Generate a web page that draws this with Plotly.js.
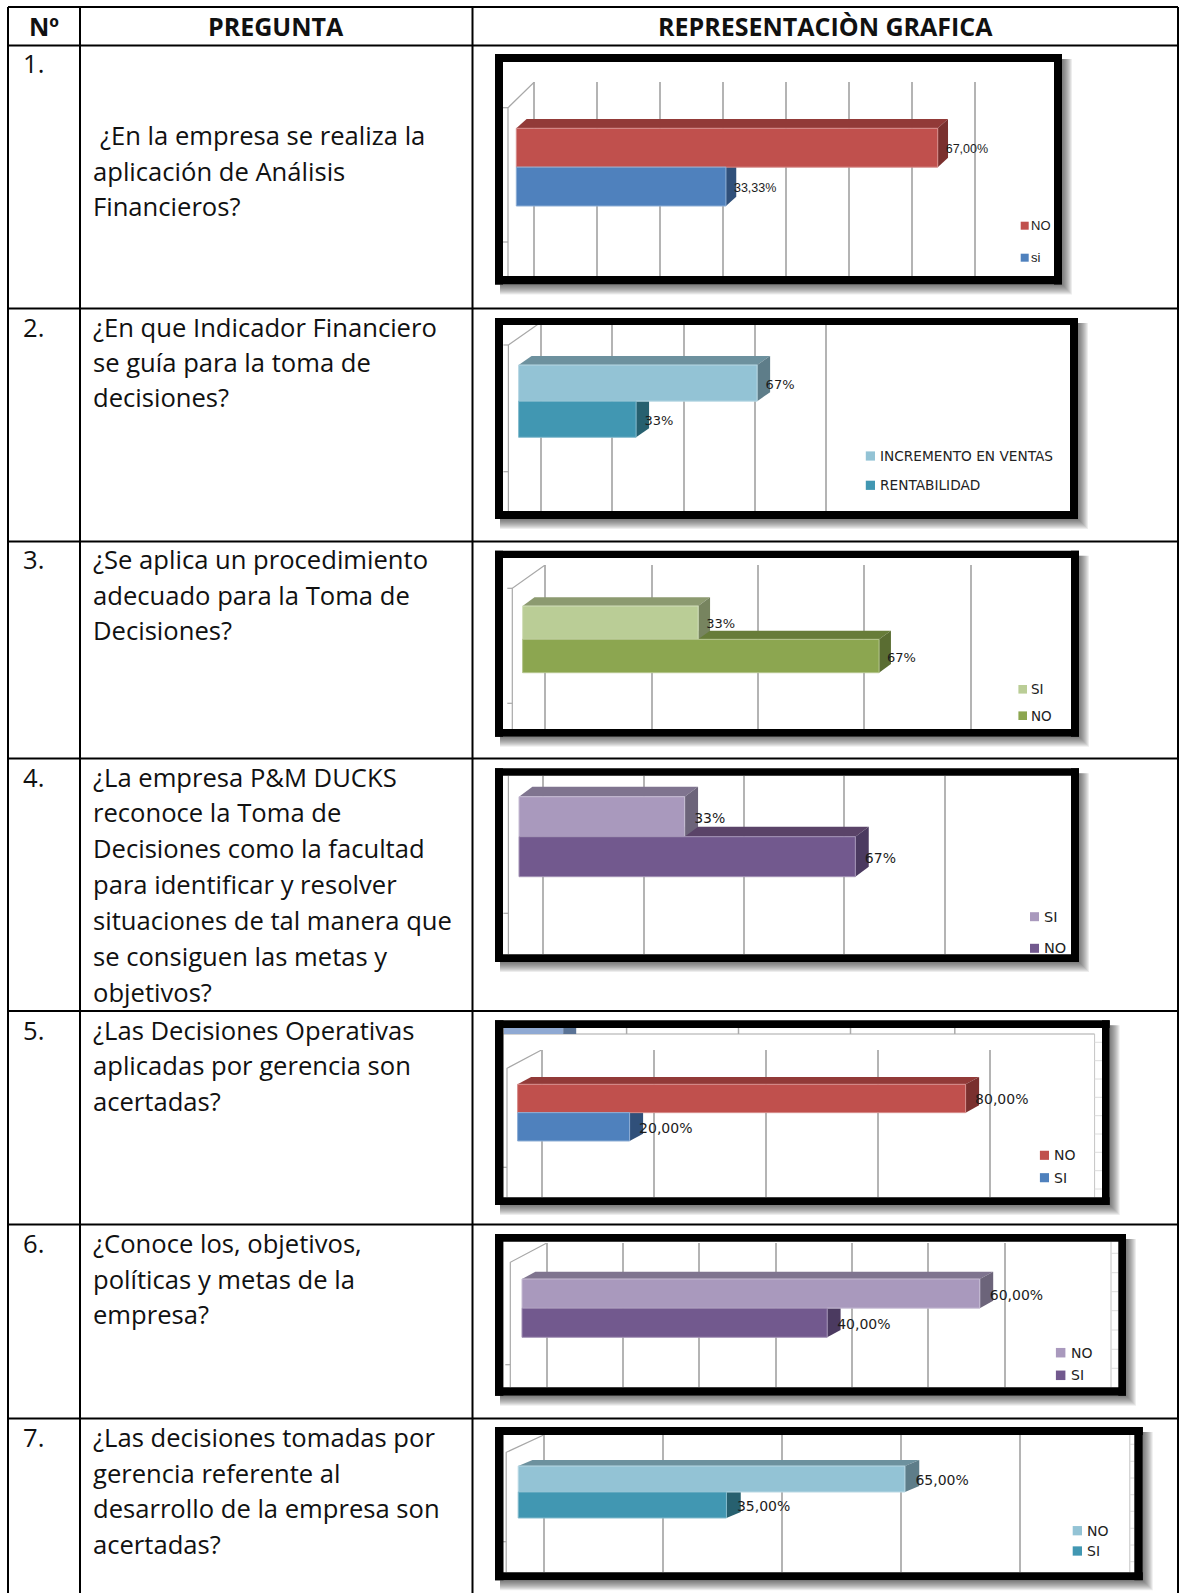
<!DOCTYPE html>
<html lang="es">
<head>
<meta charset="utf-8">
<title>Preguntas y representación gráfica</title>
<script src="https://cdn.plot.ly/plotly-3.0.1.min.js"></script>
<style>html,body{margin:0;padding:0;background:#fff}</style>
</head>
<body>
<div id="chart"></div>
<script>
// ---- Contenido de la tabla ----
const headers = ['Nº', 'PREGUNTA', 'REPRESENTACIÒN GRAFICA'];
const rowNumbers = ['1.', '2.', '3.', '4.', '5.', '6.', '7.'];
const questionLines = [
  ['¿En la empresa se realiza la', 'aplicación de Análisis', 'Financieros?'],
  ['¿En que Indicador Financiero', 'se guía para la toma de', 'decisiones?'],
  ['¿Se aplica un procedimiento', 'adecuado para la Toma de', 'Decisiones?'],
  ['¿La empresa P&M DUCKS', 'reconoce la Toma de', 'Decisiones como la facultad', 'para identificar y resolver', 'situaciones de tal manera que', 'se consiguen las metas y', 'objetivos?'],
  ['¿Las Decisiones Operativas', 'aplicadas por gerencia son', 'acertadas?'],
  ['¿Conoce los, objetivos,', 'políticas y metas de la', 'empresa?'],
  ['¿Las decisiones tomadas por', 'gerencia referente al', 'desarrollo de la empresa son', 'acertadas?']
];

// ---- Datos de cada gráfico: primero la barra superior, luego la inferior ----
const seriesNames = [
  ['NO', 'si'],
  ['INCREMENTO EN VENTAS', 'RENTABILIDAD'],
  ['SI', 'NO'],
  ['SI', 'NO'],
  ['NO', 'SI'],
  ['NO', 'SI'],
  ['NO', 'SI']
];
const seriesValues = [
  [67, 33.33],
  [67, 33],
  [33, 67],
  [33, 67],
  [80, 20],
  [60, 40],
  [65, 35]
];
const valueDecimals = [2, 0, 0, 0, 2, 2, 2];
const gridValues = [
  [0, 10, 20, 30, 40, 50, 60, 70],
  [0, 20, 40, 60, 80],
  [0, 20, 40, 60, 80],
  [0, 20, 40, 60, 80],
  [0, 20, 40, 60, 80],
  [0, 10, 20, 30, 40, 50, 60],
  [0, 20, 40, 60, 80]
];
const overlappedBarValue = 20;

// ---- Paletas: frente, cara superior, cara lateral ----
const RED = ['#C0504D', '#923A38', '#7A302E'];
const BLUE = ['#4F81BD', '#3C628F', '#30507A'];
const AQUA_L = ['#93C3D5', '#6D919E', '#5E7D89'];
const AQUA_D = ['#4197B2', '#2F6F83', '#27606F'];
const GREEN_L = ['#BACD96', '#8C9A70', '#77845F'];
const GREEN_D = ['#8CA650', '#677C39', '#5A6D32'];
const PURP_L = ['#A999BD', '#7F748F', '#6C647A'];
const PURP_D = ['#72598E', '#5A4368', '#4B3A60'];
const palettes = [
  [RED, BLUE], [AQUA_L, AQUA_D], [GREEN_L, GREEN_D], [PURP_L, PURP_D],
  [RED, BLUE], [PURP_L, PURP_D], [AQUA_L, AQUA_D]
];

// ---- Tipografías ----
const TEXT_FONT = '"Open Sans", sans-serif';
const CONDENSED_FONT = '"Liberation Sans", sans-serif';
const CHART_FONT = '"DejaVu Sans", sans-serif';

// ---- Geometría de la página y de cada gráfico, en píxeles ----
const W = 1181, H = 1593;
const X = px => px / W;
const Y = py => 1 - py / H;

const tableLeft = 8, tableRight = 1178, colA = 80, colB = 472.5, tableTop = 7;
const rowLines = [45.5, 308.5, 541.5, 758.5, 1011, 1224.5, 1418.5];
const firstLineY = [63.5, 327, 559.5, 777, 1030, 1243.5, 1437.7];
const questionY = [
  [135.5, 171, 206.5], [327, 362.5, 398], [559.5, 595.1, 630.7],
  [777, 812.6, 848.1, 884.7, 920.3, 956.9, 992.4],
  [1030, 1065.6, 1101.2], [1243.5, 1279.2, 1314.7],
  [1437.7, 1473.3, 1508.9, 1544.5]
];
const LABEL_SHIFT = 2.5;

const frames = [
  {o: [495, 54, 1062, 284.5], i: [503, 62, 1054, 276], gridTop: 82, backX0: 534.3, scale: 6.29,
   wallX: 508, diag: [107.7, 82], ticks: [107.7, 242], frontX0: 516.3, top: 128.3, bottom: 206, dx: 10.3, dy: 9.3,
   labelPad: 8, font: CONDENSED_FONT, labelSize: 12.5, legendSize: 13,
   legend: {sw: [1020.7, 1028.7], text: 1030, ys: [225.7, 257.7]}},
  {o: [495, 318, 1078, 519], i: [503, 325, 1070, 511], gridTop: 325, backX0: 541.2, scale: 3.56,
   wallX: 508.4, diag: [345, 322], ticks: [345, 471.7], frontX0: 518.6, top: 365, bottom: 437.3, dx: 13, dy: 9,
   labelPad: 8.5, font: CHART_FONT, labelSize: 13, legendSize: 13.7,
   legend: {sw: [865.8, 875], text: 879, ys: [456, 485.3]}},
  {o: [495, 550.7, 1079, 736.7], i: [503, 558, 1071, 729], gridTop: 565, backX0: 545.1, scale: 5.32,
   wallX: 512.3, diag: [588.3, 565], ticks: [588.3, 703.3], frontX0: 522.6, top: 606, bottom: 672.7, dx: 11.9, dy: 8.7,
   labelPad: 8, font: CHART_FONT, labelSize: 13, legendSize: 13.5,
   legend: {sw: [1018.4, 1027], text: 1030, ys: [689.3, 715.7]}},
  {o: [495, 768.3, 1079, 962], i: [503, 775.7, 1071, 954.3], gridTop: 775.7, backX0: 543.2, scale: 5.02,
   wallX: 508.4, diag: null, ticks: [913.3], frontX0: 519, top: 796.7, bottom: 876.7, dx: 13.4, dy: 10,
   labelPad: 9.5, font: CHART_FONT, labelSize: 14, legendSize: 14.5,
   legend: {sw: [1030, 1039], text: 1042.5, ys: [916.7, 948.3]}},
  {o: [495, 1020.3, 1109.7, 1205], i: [503.5, 1028, 1102, 1197.3], gridTop: 1050, backX0: 541.5, scale: 5.6,
   wallX: 507, diag: [1068.3, 1050], ticks: [1167.3], frontX0: 517.6, top: 1084.3, bottom: 1141, dx: 13.5, dy: 7.3,
   labelPad: 9.5, font: CHART_FONT, labelSize: 14, legendSize: 14,
   legend: {sw: [1039.9, 1049], text: 1053, ys: [1155.3, 1177.7]},
   rear: {x: 1094.6, top: 1034, ticks: [1042.3, 1060.7, 1079, 1097.3, 1115.7, 1134, 1152.3, 1170.7, 1189]}},
  {o: [495, 1234, 1126, 1395.7], i: [503.4, 1241.7, 1118.3, 1387.3], gridTop: 1243, backX0: 546.8, scale: 7.63,
   wallX: 510.3, diag: [1262.3, 1243], ticks: [1364.7], frontX0: 522, top: 1279, bottom: 1337.3, dx: 13.4, dy: 7.3,
   labelPad: 10, font: CHART_FONT, labelSize: 14, legendSize: 14,
   legend: {sw: [1055.9, 1065.4], text: 1069.5, ys: [1352.7, 1375.3]},
   rear: {x: 1111, top: null, ticks: [1253.3, 1272.7, 1291.7, 1310.7, 1330, 1349.3, 1368.3]}},
  {o: [495, 1427, 1142.8, 1580.3], i: [503.5, 1435, 1134.3, 1572.3], gridTop: 1435, backX0: 543.7, scale: 5.95,
   wallX: 506.2, diag: [1452.3, 1435], ticks: [1541.7], frontX0: 518.2, top: 1466, bottom: 1518, dx: 14.3, dy: 6,
   labelPad: 10.5, font: CHART_FONT, labelSize: 14, legendSize: 14,
   legend: {sw: [1072.7, 1082], text: 1086, ys: [1530.7, 1551]},
   rear: {x: 1129.8, top: null, ticks: [1444.3, 1461.3, 1478, 1494.7, 1511.3, 1528.3, 1545, 1561.7]}}
];

// Franja de la barra recortada que asoma en la parte alta del quinto gráfico
const overlapped = {x0: 503.5, y0: 1028, y1: 1034, scale: 2.985, dx: 13, colors: ['#8FA9D3', '#5A7396']};
const overlappedStubs = [626.6, 738.5, 850.5, 954.8];

const traces = [], shapes = [], annotations = [];
const layout = {
  width: W, height: H,
  margin: {l: 0, r: 0, t: 0, b: 0},
  paper_bgcolor: '#fff', plot_bgcolor: 'rgba(0,0,0,0)',
  showlegend: false, hovermode: false,
  shapes, annotations
};

// ---- Utilidades ----
function pageLine(x0, y0, x1, y1, color, width, layer) {
  shapes.push({type: 'line', xref: 'paper', yref: 'paper', x0: X(x0), y0: Y(y0), x1: X(x1), y1: Y(y1),
    line: {color, width}, layer: layer || 'below'});
}
function pageRect(x0, y0, x1, y1, fill, layer) {
  shapes.push({type: 'rect', xref: 'paper', yref: 'paper', x0: X(x0), y0: Y(y0), x1: X(x1), y1: Y(y1),
    fillcolor: fill, line: {width: 0}, layer: layer || 'below'});
}
function pageText(text, x, y, size, opts) {
  const o = opts || {};
  annotations.push({text, xref: 'paper', yref: 'paper', x: X(x), y: Y(y),
    xanchor: o.anchor || 'left', yanchor: 'middle', align: o.anchor === 'center' ? 'center' : 'left',
    showarrow: false, borderpad: 0,
    font: {family: o.family || TEXT_FONT, size, color: o.color || '#111', weight: o.weight || 400}});
}
function lighten(hex, t) {
  const n = parseInt(hex.slice(1), 16);
  const c = [n >> 16, (n >> 8) & 255, n & 255].map(v => Math.round(v + (255 - v) * t));
  return `rgb(${c[0]},${c[1]},${c[2]})`;
}
let axisCount = 0;
function addAxes(domX, domY, rangeX, rangeY, grid) {
  axisCount += 1;
  const n = axisCount === 1 ? '' : axisCount;
  const base = {showticklabels: false, ticks: '', showline: false, zeroline: false, fixedrange: true};
  layout['xaxis' + n] = Object.assign({}, base, {
    domain: [X(domX[0]), X(domX[1])], range: rangeX, anchor: 'y' + n,
    showgrid: !!grid,
    tickmode: 'array', tickvals: grid || [],
    gridcolor: '#b4b4b4', gridwidth: 2
  });
  layout['yaxis' + n] = Object.assign({}, base, {
    domain: [Y(domY[1]), Y(domY[0])], range: rangeY, anchor: 'x' + n, showgrid: false
  });
  return {xaxis: 'x' + n, yaxis: 'y' + n};
}
function polygon(ax, xs, ys, color) {
  traces.push(Object.assign({type: 'scatter', mode: 'lines', x: xs.concat(xs[0]), y: ys.concat(ys[0]),
    fill: 'toself', fillcolor: color, line: {width: 0, color}}, ax));
}

// ---- Tabla ----
pageLine(tableLeft, tableTop, tableRight, tableTop, '#000', 2);
rowLines.forEach(y => pageLine(tableLeft, y, tableRight, y, '#000', 2));
[tableLeft, colA, colB, tableRight].forEach(x => pageLine(x, tableTop, x, H, '#000', 2));

pageText(headers[0], 43.5, 25.5, 25, {anchor: 'center', weight: 700});
pageText(headers[1], 275.7, 25.5, 25, {anchor: 'center', weight: 700});
pageText(headers[2], 825.3, 25.5, 25, {anchor: 'center', weight: 700});

rowNumbers.forEach((num, r) => {
  pageText(num, 21.5, firstLineY[r], 25.6);
  questionLines[r].forEach((line, k) => {
    const x = (r === 0 && k === 0) ? 99 : 92;
    pageText(line, x, questionY[r][k], 25.6);
  });
});

// ---- Gráficos de barras con perspectiva ----
frames.forEach((f, c) => {
  const [ol, ot, or, ob] = f.o;
  const [il, it, ir, ib] = f.i;

  // Sombra difusa del marco
  for (let k = 1; k <= 10; k += 1) {
    pageRect(ol + 5, ot + 5, or + k, ob + k, 'rgba(50,50,50,0.085)');
  }
  pageRect(ol, ot, or, ob, '#fff');

  // Pared del fondo: líneas de cuadrícula en su propia escala
  const back = addAxes([il, ir], [f.gridTop, ib],
    [(il - f.backX0) / f.scale, (ir - f.backX0) / f.scale], [-ib, -f.gridTop], gridValues[c]);
  const wx = f.wallX;
  const wallXs = [(wx - f.backX0) / f.scale, (wx - f.backX0) / f.scale];
  const wallYs = [-ib, -(f.diag ? f.diag[0] : f.gridTop)];
  if (f.diag) { wallXs.push(0); wallYs.push(-f.diag[1]); }
  traces.push(Object.assign({type: 'scatter', mode: 'lines', x: wallXs, y: wallYs,
    line: {color: '#a8a8a8', width: 1.2}, cliponaxis: true}, back));

  f.ticks.forEach(t => pageLine(wx - 5, t, wx, t, '#a8a8a8', 1.2));

  if (f.rear) {
    pageLine(f.rear.x, f.rear.top || it, f.rear.x, ib, '#c4c4c4', 1);
    if (f.rear.top) pageLine(il, f.rear.top, f.rear.x, f.rear.top, '#c4c4c4', 1.5);
    f.rear.ticks.forEach(t => pageLine(f.rear.x, t, ir, t, '#dcdcdc', 1));
  }

  // Escalas de las barras: una fila de altura 1 por serie
  const barH = (f.bottom - f.top) / 2;
  const mid = f.top + barH;
  const toVal = px => (px - f.frontX0) / f.scale;
  const toRow = py => 0.5 + (mid - py) / barH;
  const rangeX = [toVal(il), toVal(ir)];
  const rangeY = [toRow(ib), toRow(it)];
  const dV = f.dx / f.scale, dR = f.dy / barH;

  // Caras superior y lateral; la barra inferior se pinta antes que la superior
  const faces = addAxes([il, ir], [it, ib], rangeX, rangeY);
  [1, 0].forEach(s => {
    const v = seriesValues[c][s];
    const row = 1 - s;
    const pal = palettes[c][s];
    polygon(faces, [0, dV, v + dV, v], [row + .5, row + .5 + dR, row + .5 + dR, row + .5], pal[1]);
    polygon(faces, [v, v + dV, v + dV, v], [row + .5, row + .5 + dR, row - .5 + dR, row - .5], pal[2]);
  });

  // Caras frontales y etiquetas de valor
  const front = addAxes([il, ir], [it, ib], rangeX, rangeY);
  seriesNames[c].forEach((name, s) => {
    const v = seriesValues[c][s];
    const pal = palettes[c][s];
    traces.push(Object.assign({type: 'bar', orientation: 'h', x: [v], y: [1 - s], width: [1], name,
      marker: {color: pal[0], line: {color: lighten(pal[0], 0.35), width: 1}}}, front));
    const label = v.toFixed(valueDecimals[c]).replace('.', ',') + '%';
    traces.push(Object.assign({type: 'scatter', mode: 'text', x: [v + f.labelPad / f.scale], y: [1 - s - LABEL_SHIFT / barH],
      text: [label], textposition: 'middle right', cliponaxis: false,
      textfont: {family: f.font, size: f.labelSize, color: '#1c1c1c'}}, front));
  });

  // Leyenda
  seriesNames[c].forEach((name, s) => {
    const y = f.legend.ys[s];
    const half = (f.legend.sw[1] - f.legend.sw[0]) / 2;
    pageRect(f.legend.sw[0], y - half, f.legend.sw[1], y + half, palettes[c][s][0], 'above');
    pageText(name, f.legend.text, y, f.legendSize, {family: f.font, color: '#222'});
  });

  // Franja recortada del gráfico solapado
  if (c === 4) {
    const o = overlapped;
    const ov = addAxes([o.x0, ir], [o.y0, o.y1], [0, (ir - o.x0) / o.scale], [-.5, .5]);
    polygon(ov, [overlappedBarValue, overlappedBarValue + o.dx / o.scale, overlappedBarValue + o.dx / o.scale, overlappedBarValue],
      [-.5, -.5, .5, .5], o.colors[1]);
    traces.push(Object.assign({type: 'bar', orientation: 'h', x: [overlappedBarValue], y: [0], width: [1],
      marker: {color: o.colors[0]}}, ov));
    overlappedStubs.forEach(x => pageLine(x, o.y0, x, o.y1, '#ababab', 1.5));
  }

  // Marco negro grueso
  pageRect(ol, ot, or, it, '#000', 'above');
  pageRect(ol, ib, or, ob, '#000', 'above');
  pageRect(ol, ot, il, ob, '#000', 'above');
  pageRect(ir, ot, or, ob, '#000', 'above');
});

Plotly.newPlot('chart', traces, layout, {staticPlot: true, displayModeBar: false});
</script>
</body>
</html>
